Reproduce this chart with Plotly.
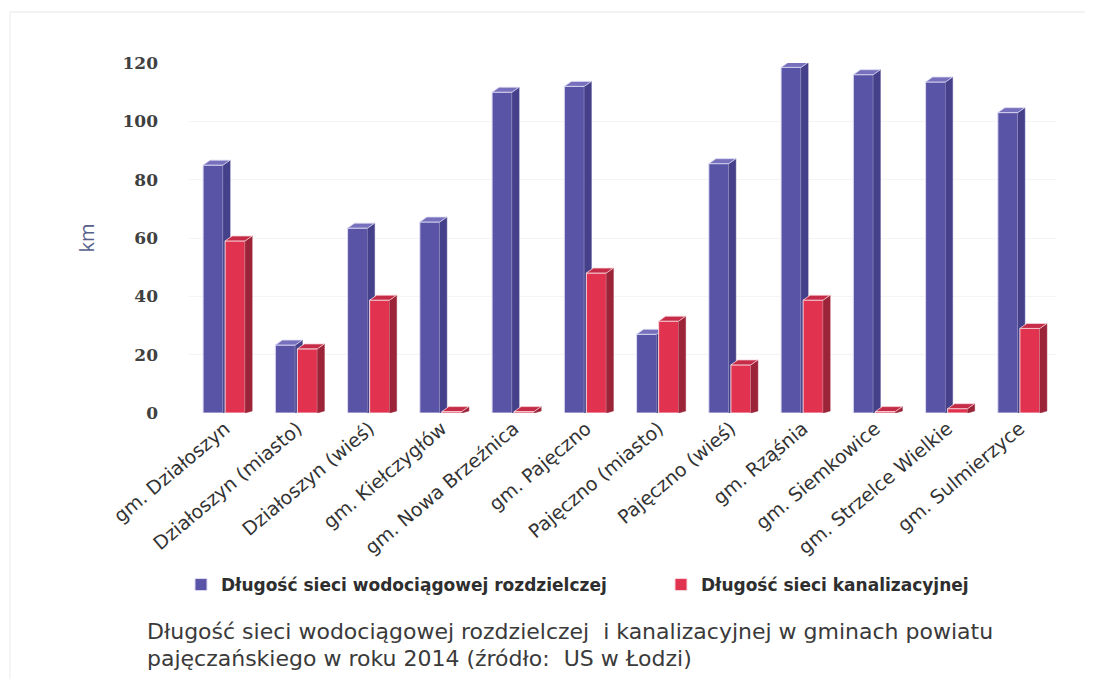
import plotly.graph_objects as go

# Gminy powiatu pajęczańskiego
categories = [
    "gm. Działoszyn", "Działoszyn (miasto)", "Działoszyn (wieś)", "gm. Kiełczygłów",
    "gm. Nowa Brzeźnica", "gm. Pajęczno", "Pajęczno (miasto)", "Pajęczno (wieś)",
    "gm. Rząśnia", "gm. Siemkowice", "gm. Strzelce Wielkie", "gm. Sulmierzyce",
]
# Długość sieci [km]
water = [85.0, 23.3, 63.4, 65.5, 110.0, 112.0, 27.0, 85.5, 118.5, 116.0, 113.5, 103.0]
sewer = [59.0, 22.0, 38.7, 0.5, 0.5, 48.0, 31.5, 16.5, 38.7, 0.5, 1.5, 29.0]
y_ticks = [0, 20, 40, 60, 80, 100, 120]

name_water = "Długość sieci wodociągowej rozdzielczej"
name_sewer = "Długość sieci kanalizacyjnej"
caption_lines = [
    "Długość sieci wodociągowej rozdzielczej  i kanalizacyjnej w gminach powiatu",
    "pajęczańskiego w roku 2014 (źródło:  US w Łodzi)",
]

BAR_W = 0.277      # front face width (category units)
DX, DY = 0.097, 1.7  # pseudo-3D depth of the bars

series = [
    dict(vals=water, name=name_water, off=-0.305, axes=("x", "y"), legend="legend",
         front="#5a54a6", side="#45408a", top="#7670bd", edge="#dcdaf2"),
    dict(vals=sewer, name=name_sewer, off=0.0, axes=("x2", "y2"), legend="legend2",
         front="#e1334f", side="#9c2438", top="#c62c47", edge="#f6d6dc"),
]

fig = go.Figure()
xs = list(range(len(categories)))
for s in series:
    xa, ya = s["axes"]
    fig.add_trace(go.Bar(
        x=xs, y=s["vals"], offset=s["off"], width=BAR_W, name=s["name"],
        marker=dict(color=s["front"], line=dict(color=s["edge"], width=1)),
        xaxis=xa, yaxis=ya, hoverinfo="skip", legend=s["legend"],
    ))
    side_x, side_y, top_x, top_y = [], [], [], []
    for i, v in zip(xs, s["vals"]):
        x0 = i + s["off"]
        x1 = x0 + BAR_W
        side_x += [x1, x1 + DX, x1 + DX, x1, x1, None]
        side_y += [0, DY * 0.4, v + DY, v, 0, None]
        top_x += [x0, x0 + DX, x1 + DX, x1, x0, None]
        top_y += [v, v + DY, v + DY, v, v, None]
    fig.add_trace(go.Scatter(
        x=side_x, y=side_y, mode="lines", fill="toself", fillcolor=s["side"],
        line=dict(color=s["side"], width=0.5), showlegend=False,
        xaxis=xa, yaxis=ya, hoverinfo="skip", cliponaxis=False,
    ))
    fig.add_trace(go.Scatter(
        x=top_x, y=top_y, mode="lines", fill="toself", fillcolor=s["top"],
        line=dict(color=s["edge"], width=0.8), showlegend=False,
        xaxis=xa, yaxis=ya, hoverinfo="skip", cliponaxis=False,
    ))

L, R, T, B = 189, 51, 63, 266
W, H = 1107, 679
pw, ph = W - L - R, H - T - B

def px_x(p):
    return (p - L) / pw

def px_y(p):
    return (H - B - p) / ph

legend_font = dict(family="DejaVu Sans", size=17, color="#2e2e2e", weight="bold")
legend_common = dict(
    orientation="h", yanchor="middle", xanchor="left", y=px_y(585),
    font=legend_font, itemwidth=30, bgcolor="rgba(0,0,0,0)",
)

caption = [
    dict(xref="paper", yref="paper", x=px_x(145), y=px_y(yc),
         xanchor="left", yanchor="middle", showarrow=False, text=line,
         font=dict(family="DejaVu Sans", size=22, color="#3a3a3a"))
    for line, yc in zip(caption_lines, [631, 658])
]

fig.update_layout(
    width=W, height=H,
    margin=dict(l=L, r=R, t=T, b=B),
    paper_bgcolor="white", plot_bgcolor="white",
    barmode="overlay",
    font=dict(family="DejaVu Sans", color="#3a3a3a"),
    xaxis=dict(
        range=[-0.5, len(categories) - 0.5], tickmode="array",
        tickvals=xs, ticktext=categories, tickangle=-40,
        tickfont=dict(family="DejaVu Sans", size=19, color="#333333"),
        showgrid=False, zeroline=False, showline=False, ticks="",
    ),
    yaxis=dict(
        range=[0, 120], tickmode="array", tickvals=y_ticks,
        tickfont=dict(family="DejaVu Serif", size=17, color="#404040", weight="bold"),
        ticklabelstandoff=30,
        showgrid=True, gridcolor="#f4f4f4", zeroline=False, showline=False, ticks="",
        title=dict(text="km", font=dict(family="Open Sans", size=20, color="#56608a"), standoff=22),
    ),
    xaxis2=dict(overlaying="x", matches="x", visible=False),
    yaxis2=dict(overlaying="y", matches="y", visible=False),
    legend=dict(x=px_x(181), **legend_common),
    legend2=dict(x=px_x(661), **legend_common),
    annotations=caption,
    shapes=[
        dict(type="line", xref="paper", yref="paper", x0=px_x(10), x1=px_x(1085),
             y0=px_y(12), y1=px_y(12), line=dict(color="#e6e6e6", width=1)),
        dict(type="line", xref="paper", yref="paper", x0=px_x(10), x1=px_x(10),
             y0=px_y(12), y1=px_y(679), line=dict(color="#ececec", width=1)),
    ],
)

fig.write_html("out.html")
